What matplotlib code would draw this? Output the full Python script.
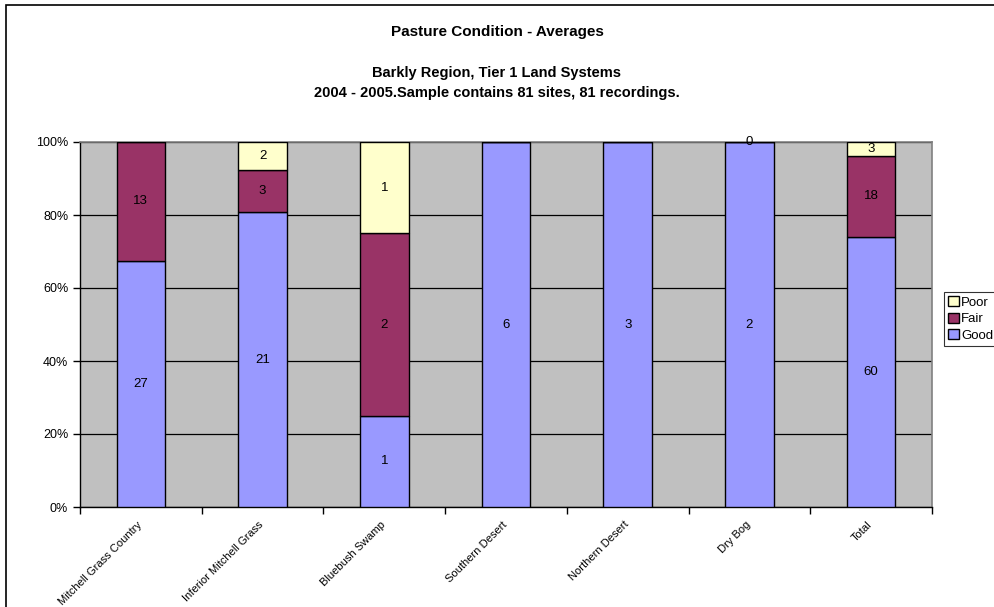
import matplotlib

matplotlib.use("Agg")

import matplotlib.pyplot as plt
import matplotlib.transforms as mtransforms
import numpy as np
from matplotlib.patches import Rectangle

plt.rcParams["font.family"] = ["Liberation Sans", "DejaVu Sans"]

categories = ["Mitchell Grass Country", "Inferior Mitchell Grass", "Bluebush Swamp",
              "Southern Desert", "Northern Desert", "Dry Bog", "Total"]
good = [27, 21, 1, 6, 3, 2, 60]
fair = [13, 3, 2, None, None, None, 18]
poor = [None, 2, 1, None, None, 0, 3]

series = [("Good", good, "#9999FF"), ("Fair", fair, "#993366"), ("Poor", poor, "#FFFFCC")]

fig = plt.figure(figsize=(9.94, 6.07), dpi=100)
# outer chart frame, running off the right and bottom edges
fig.patches.append(Rectangle((6 / 994, -0.1), 1.1, 1.1 - 5 / 607, transform=fig.transFigure,
                             fill=False, edgecolor="black", linewidth=1.2))

ax = fig.add_axes([80 / 994, 100 / 607, 852 / 994, 365 / 607])
ax.set_facecolor("#C0C0C0")

vals = np.array([[v if v is not None else 0 for v in s[1]] for s in series], dtype=float)
totals = vals.sum(axis=0)
x = np.arange(len(categories))
bottom = np.zeros(len(categories))
handles = []
for (name, raw, color), row in zip(series, vals):
    pct = row / totals * 100
    h = ax.bar(x, pct, width=0.4, bottom=bottom, color=color, edgecolor="black",
               linewidth=1.0, zorder=3, label=name)
    handles.append(h)
    for i, v in enumerate(raw):
        if v is None:
            continue
        ypos = bottom[i] + pct[i] if v == 0 else bottom[i] + pct[i] / 2
        ax.text(x[i], ypos, str(v), ha="center", va="center", fontsize=9.5, zorder=4)
    bottom += pct

ax.set_xlim(-0.5, len(categories) - 0.5)
ax.set_ylim(0, 100)
ax.set_yticks(np.arange(0, 101, 20))
ax.set_yticklabels([f"{v}%" for v in range(0, 101, 20)], fontsize=9)
ax.yaxis.grid(True, color="black", linewidth=0.9, zorder=1)
ax.set_axisbelow(True)

ax.set_xticks(x)
ax.set_xticklabels(categories, rotation=45, ha="right", rotation_mode="anchor", fontsize=8)
ax.tick_params(axis="x", length=0, pad=9)
shift = mtransforms.ScaledTranslation(-4 / 100, 0, fig.dpi_scale_trans)
for lbl in ax.get_xticklabels():
    lbl.set_transform(lbl.get_transform() + shift)
ax.set_xticks(np.arange(-0.5, len(categories), 1), minor=True)
ax.tick_params(axis="x", which="minor", length=5, direction="out", width=1)
ax.tick_params(axis="y", length=5, direction="out", width=1)

for side in ["left", "bottom"]:
    ax.spines[side].set_color("black")
    ax.spines[side].set_linewidth(1.0)
for side in ["top", "right"]:
    ax.spines[side].set_color("#808080")
    ax.spines[side].set_linewidth(1.2)

fig.text(0.5, 1 - 32 / 607, "Pasture Condition - Averages", ha="center", va="center",
         fontsize=11, fontweight="bold")
fig.text(0.5, 1 - 73 / 607, "Barkly Region, Tier 1 Land Systems", ha="center", va="center",
         fontsize=10.5, fontweight="bold")
fig.text(0.5, 1 - 93 / 607, "2004 - 2005.Sample contains 81 sites, 81 recordings.",
         ha="center", va="center", fontsize=10.5, fontweight="bold")

leg = fig.legend(handles[::-1], ["Poor", "Fair", "Good"], loc="upper left",
                 bbox_to_anchor=(944 / 994, 1 - 292 / 607), fontsize=9.5, frameon=True,
                 fancybox=False, edgecolor="black", handlelength=0.8, handleheight=0.8,
                 handletextpad=0.2, borderpad=0.3, labelspacing=0.3, borderaxespad=0)
leg.get_frame().set_linewidth(0.8)

fig.savefig("out.png", dpi=100)
